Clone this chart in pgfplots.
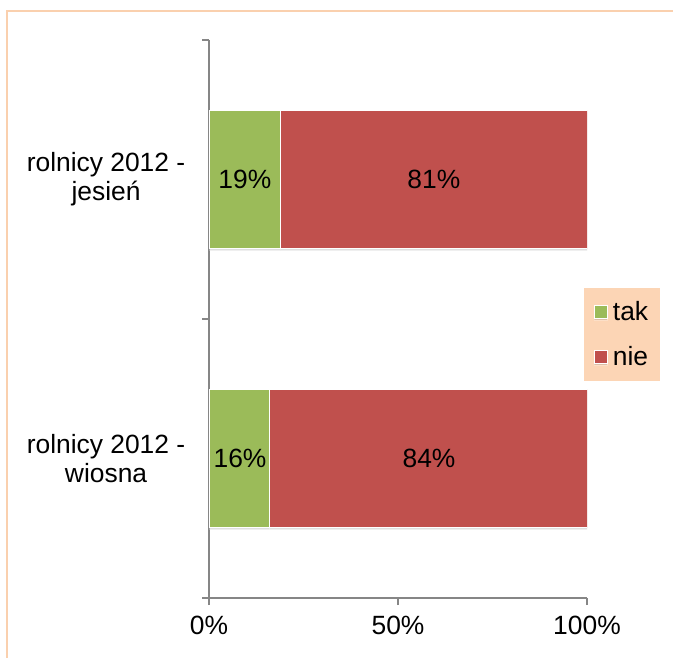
\documentclass[border=0pt]{standalone}
\usepackage{fontspec}
\setmainfont{Liberation Sans}
\usepackage{pgfplots}
\pgfplotsset{compat=1.18}
\usetikzlibrary{shadows}
\definecolor{barGreen}{HTML}{9BBB59}
\definecolor{barRed}{HTML}{C0504D}
\definecolor{axisgray}{HTML}{868686}
\definecolor{legpeach}{HTML}{FCD5B5}
\definecolor{framepeach}{HTML}{FAD0AE}
\newcommand{\chartfont}{\fontsize{19.8}{22}\selectfont}
\begin{document}
\begin{tikzpicture}
\path[use as bounding box] (0pt,0pt) rectangle (504.75pt,-492.75pt);
\begin{scope}[x=0.75pt,y=-0.75pt]
\clip (0,0) rectangle (673,657);
\draw[framepeach, line width=2.2pt] (7,11) rectangle (720,720);
\end{scope}
\begin{axis}[
  at={(156.75pt,-448.5pt)}, anchor=south west,
  scale only axis, width=283.5pt, height=418.5pt,
  xbar stacked, bar width=103.5pt,
  xmin=0, xmax=100, ymin=-0.5, ymax=1.5,
  axis x line*=bottom, axis y line*=left,
  axis line style={draw=axisgray, line width=1pt},
  xtick={0,50,100}, xticklabels={0\%,50\%,100\%},
  ytick={0,1},
  yticklabels={{rolnicy 2012 -\\wiosna},{rolnicy 2012 -\\jesień}},
  minor ytick={-0.5,0.5,1.5},
  tick align=outside,
  major tick length=5.25pt, minor tick length=5.25pt,
  major x tick style={draw=axisgray, line width=1pt},
  major y tick style={draw=none},
  minor y tick style={draw=axisgray, line width=1pt},
  tick label style={font=\chartfont},
  yticklabel style={align=center, xshift=-9pt},
  xticklabel style={yshift=-5pt},
  legend style={at={(0.992,0.556)}, anchor=north west, fill=legpeach, draw=none,
    font=\chartfont, row sep=14pt, inner xsep=7pt, inner ysep=8pt},
  legend cell align=left,
  legend image code/.code={\draw[#1] (0pt,-4.8pt) rectangle (9.75pt,4.8pt);},
  legend style={/tikz/every odd column/.append style={column sep=2pt}},
]
\addplot[fill=barGreen, draw=white, line width=0.75pt,
  drop shadow={shadow xshift=0pt, shadow yshift=-1.5pt, opacity=0.25}]
  coordinates {(16,0) (19,1)};
\addlegendentry{tak}
\addplot[fill=barRed, draw=white, line width=0.75pt,
  drop shadow={shadow xshift=0pt, shadow yshift=-1.5pt, opacity=0.25}]
  coordinates {(84,0) (81,1)};
\addlegendentry{nie}
\end{axis}
\begin{axis}[
  at={(156.75pt,-448.5pt)}, anchor=south west,
  scale only axis, width=283.5pt, height=418.5pt,
  xmin=0, xmax=100, ymin=-0.5, ymax=1.5,
  hide axis,
]
\addplot[draw=none, mark=none, nodes near coords, point meta=explicit symbolic,
  every node near coord/.style={anchor=center, font=\chartfont, text=black}]
  coordinates {(8.2,0)[16\%] (58.2,0)[84\%] (9.5,1)[19\%] (59.5,1)[81\%]};
\end{axis}
\end{tikzpicture}
\end{document}
